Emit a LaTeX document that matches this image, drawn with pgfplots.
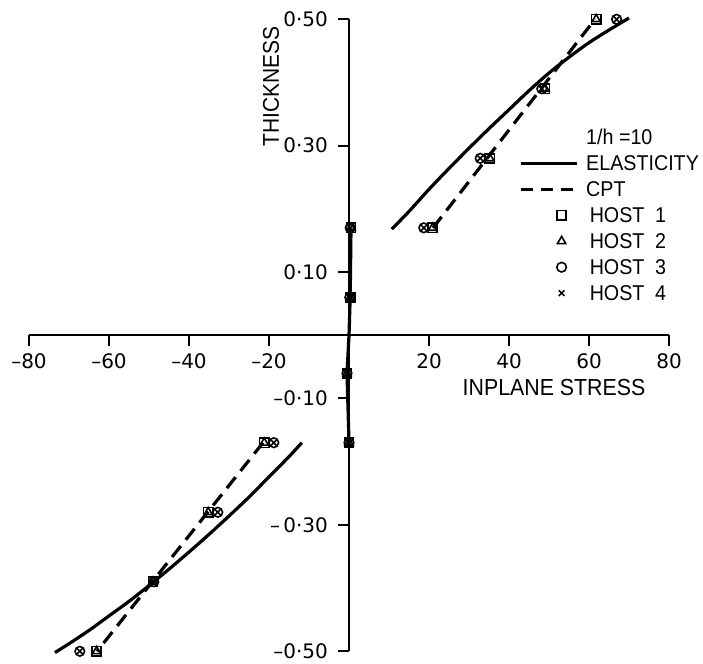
\documentclass[border=0pt]{standalone}
\usepackage{fontspec}
\setmainfont{Liberation Sans}[FakeStretch=0.92]
\newfontfamily\tickfont{DejaVu Sans}
\usepackage{pgfplots}
\pgfplotsset{compat=1.18}
\pgfplotsset{
  lineleg/.style={legend image code/.code={\draw[##1] (0pt,0pt) -- (28pt,0pt);}},
  markleg/.style={legend image code/.code={\path[draw=none,fill=none] (0pt,0pt) -- (28pt,0pt); \draw[##1, /tikz/only marks] plot coordinates {(20.5pt,0pt)};}},
}
\begin{document}
\begin{tikzpicture}
\begin{axis}[
  scale only axis, width=320pt, height=316pt,
  xmin=-80, xmax=80, ymin=-0.5, ymax=0.5,
  axis lines=middle, axis line style={-, line width=1pt},
  tick style={line width=1pt, black},
  tick align=outside, major tick length=5.5pt,
  xtick={-80,-60,-40,-20,20,40,60,80},
  xticklabels={–80,–60,–40,–20,20,40,60,80},
  ytick={-0.5,-0.3,-0.1,0.1,0.3,0.5},
  yticklabels={–0·50,–\,0·30,–0·10,0·10,0·30,0·50},
  ticklabel style={font=\tickfont\fontsize{10}{11}\selectfont},
  yticklabel style={xshift=-1.5pt},
  clip=false,
  legend cell align=left,
  legend style={draw=none, fill=none, inner sep=0pt, outer sep=0pt,
    at={(axis cs:42.5,0.334)}, anchor=north west,
    column sep=4pt, row sep=0pt,
    font=\fontsize{10.7}{13}\selectfont,
    nodes={inner sep=0pt, text height=10pt, text depth=3pt}},
]
% Elasticity, upper outer layers
\addplot[black, line width=1.6pt, smooth, forget plot] coordinates {
 (10.7,0.168) (15,0.196) (20,0.231) (25,0.264) (30,0.296) (35,0.327)
 (40,0.357) (45,0.387) (50,0.415) (55,0.440) (60,0.463) (65,0.483) (70,0.502)};
% Elasticity, lower outer layers
\addplot[black, line width=1.6pt, smooth, forget plot] coordinates {
 (-11.8,-0.170) (-15,-0.192) (-20,-0.224) (-25,-0.256) (-30,-0.286) (-35,-0.315)
 (-40,-0.343) (-45,-0.370) (-50,-0.396) (-55,-0.421) (-60,-0.444) (-65,-0.467)
 (-70,-0.488) (-73.5,-0.502)};
% Elasticity / CPT, inner layers
\addplot[black, line width=1.6pt, forget plot] coordinates {
 (0.5,0.17) (0.3,0.06) (0,0) (-0.5,-0.06) (0,-0.17)};
\addplot[black, line width=1pt, forget plot] coordinates {
 (0.1,0.17) (-0.1,-0.17)};
% CPT
\addplot[black, line width=1.6pt, dash pattern=on 7pt off 4pt, forget plot] coordinates {
 (21,0.17) (61.5,0.5)};
\addplot[black, line width=1.6pt, dash pattern=on 7pt off 4pt, forget plot] coordinates {
 (-21.5,-0.17) (-63,-0.5)};
% Hosts 1 and 2
\addplot[only marks, mark=square, mark size=2.3pt, black, line width=0.8pt, forget plot] coordinates {
 (61.8,0.5) (49,0.39) (35.2,0.28) (20.9,0.17) (0.5,0.17) (0.3,0.06)
 (-0.5,-0.06) (0,-0.17) (-21.2,-0.17) (-35.2,-0.28) (-49,-0.39) (-63.1,-0.5)};
\addplot[only marks, mark=triangle, mark size=2.4pt, black, line width=0.8pt, forget plot] coordinates {
 (61.8,0.5) (49,0.39) (35.2,0.28) (20.9,0.17) (0.5,0.17) (0.3,0.06)
 (-0.5,-0.06) (0,-0.17) (-21.2,-0.17) (-35.2,-0.28) (-49,-0.39) (-63.1,-0.5)};
% Hosts 3 and 4
\addplot[only marks, mark=o, mark size=2.4pt, black, line width=0.8pt, forget plot] coordinates {
 (66.9,0.5) (48.2,0.39) (32.8,0.28) (18.7,0.17) (0.3,0.17) (0.2,0.06)
 (-0.5,-0.06) (0,-0.17) (-18.8,-0.17) (-32.8,-0.28) (-48.8,-0.39) (-67.3,-0.5)};
\addplot[only marks, mark=x, mark size=2pt, black, line width=0.8pt, forget plot] coordinates {
 (66.9,0.5) (48.2,0.39) (32.8,0.28) (18.7,0.17) (0.3,0.17) (0.2,0.06)
 (-0.5,-0.06) (0,-0.17) (-18.8,-0.17) (-32.8,-0.28) (-48.8,-0.39) (-67.3,-0.5)};
% Legend
\addlegendimage{empty legend}
\addlegendentry{1/h =10}
\addlegendimage{lineleg, black, line width=1.6pt}
\addlegendentry{ELASTICITY}
\addlegendimage{lineleg, black, line width=1.6pt, dash pattern=on 6pt off 4pt}
\addlegendentry{CPT}
\addlegendimage{markleg, mark=square, mark size=2.3pt, black, line width=0.8pt}
\addlegendentry{\,HOST\enspace 1}
\addlegendimage{markleg, mark=triangle, mark size=2.4pt, black, line width=0.8pt}
\addlegendentry{\,HOST\enspace 2}
\addlegendimage{markleg, mark=o, mark size=2.4pt, black, line width=0.8pt}
\addlegendentry{\,HOST\enspace 3}
\addlegendimage{markleg, mark=x, mark size=2pt, black, line width=0.8pt}
\addlegendentry{\,HOST\enspace 4}
% Axis titles
\node[rotate=90, font=\fontsize{11.4}{13}\selectfont] at (axis cs:-19.5,0.394) {THICKNESS};
\node[font=\fontsize{11.6}{13}\selectfont] at (axis cs:51.25,-0.082) {INPLANE STRESS};
\end{axis}
\pgfresetboundingbox
\path ([xshift=-14.5pt,yshift=-6.15pt]current axis.south west) rectangle ([xshift=17pt,yshift=9.65pt]current axis.north east);
\end{tikzpicture}
\end{document}
